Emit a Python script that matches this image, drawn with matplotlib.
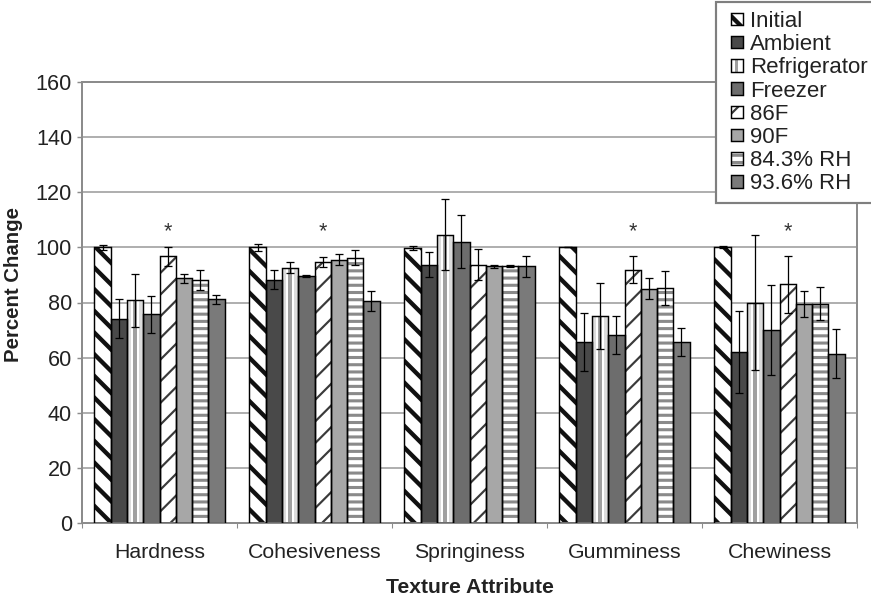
import matplotlib
matplotlib.use('Agg')
import matplotlib.pyplot as plt
import numpy as np
from matplotlib.patches import Rectangle
from matplotlib.legend_handler import HandlerBase

plt.rcParams['font.family'] = ['Liberation Sans', 'DejaVu Sans']
plt.rcParams['hatch.linewidth'] = 1.5

# ---------------- data ----------------
categories = ['Hardness', 'Cohesiveness', 'Springiness', 'Gumminess', 'Chewiness']
series_names = ['Initial', 'Ambient', 'Refrigerator', 'Freezer', '86F', '90F',
                '84.3% RH', '93.6% RH']

initial = [100.0, 100.0, 99.8, 100.0, 100.0]
initial_err = [0.8, 1.2, 0.7, 0.0, 0.3]
ambient = [74.2, 88.3, 93.7, 65.7, 62.1]
ambient_err = [7.1, 3.3, 4.5, 10.6, 15.0]
refrigerator = [80.8, 92.6, 104.5, 75.1, 80.0]
refrigerator_err = [9.7, 2.0, 12.9, 12.0, 24.5]
freezer = [75.7, 89.6, 102.1, 68.2, 70.0]
freezer_err = [6.7, 0.3, 9.7, 7.0, 16.3]
f86 = [96.7, 94.7, 93.7, 91.9, 86.6]
f86_err = [3.5, 1.7, 5.6, 4.8, 10.4]
f90 = [88.7, 95.5, 93.1, 85.0, 79.4]
f90_err = [1.8, 1.9, 0.5, 3.8, 4.6]
rh843 = [88.0, 96.2, 93.1, 85.3, 79.6]
rh843_err = [3.6, 2.7, 0.4, 6.2, 5.9]
rh936 = [81.1, 80.6, 93.1, 65.6, 61.5]
rh936_err = [1.5, 3.6, 3.9, 5.0, 9.0]

sig_categories = ['Hardness', 'Cohesiveness', 'Gumminess', 'Chewiness']
sig_series = '86F'
sig_y = 105.8

values = [initial, ambient, refrigerator, freezer, f86, f90, rh843, rh936]
errors = [initial_err, ambient_err, refrigerator_err, freezer_err, f86_err,
          f90_err, rh843_err, rh936_err]

# ---------------- styles ----------------
styles = [
    dict(face='white', hatch='\\\\', hcolor='#111111', hlw=2.4),
    dict(face='#494949'),
    dict(face='white', stripe='#a0a0a0', side='#dcdcdc'),
    dict(face='#6d6d6d'),
    dict(face='white', hatch='//', hcolor='#3a3a3a', hlw=1.2),
    dict(face='#a7a7a7'),
    dict(face='white', hatch='---', hcolor='#8a8a8a', hlw=1.7),
    dict(face='#7a7a7a'),
]

W, H = 871, 598
fig = plt.figure(figsize=(W / 130, H / 130), dpi=130)
ax = fig.add_axes([82 / W, 1 - 523.3 / H, 775 / W, (523.3 - 81.7) / H])

x = np.arange(len(categories)) + 0.5
w = 0.105
n = len(series_names)


def hatch_lw(artist, lw):
    """Draw this artist with its own hatch line width."""
    orig = artist.draw

    def draw(renderer, *a, **k):
        with plt.rc_context({'hatch.linewidth': lw}):
            return orig(renderer, *a, **k)
    artist.draw = draw
    if hasattr(artist, 'set_hatch_linewidth'):
        try:
            artist.set_hatch_linewidth(lw)
        except Exception:
            pass
    return artist


for i, (vals, errs, st) in enumerate(zip(values, errors, styles)):
    pos = x + (i - (n - 1) / 2) * w
    if st.get('hatch'):
        bars = ax.bar(pos, vals, w, color=st['face'], edgecolor=st['hcolor'],
                      linewidth=0, hatch=st['hatch'], zorder=2)
        for b in bars:
            hatch_lw(b, st['hlw'])
    else:
        ax.bar(pos, vals, w, color=st['face'], linewidth=0, zorder=2)
    if st.get('stripe'):
        ax.bar(pos - w * 0.36, vals, w * 0.2, color=st['side'], linewidth=0, zorder=2.1)
        ax.bar(pos + w * 0.36, vals, w * 0.2, color=st['side'], linewidth=0, zorder=2.1)
        ax.bar(pos, vals, w * 0.25, color=st['stripe'], linewidth=0, zorder=2.1)
    ax.bar(pos, vals, w, facecolor='none', edgecolor='black', linewidth=0.8, zorder=3)
    ax.errorbar(pos, vals, yerr=errs, fmt='none', ecolor='black', elinewidth=0.7,
                capsize=2.0, capthick=0.7, zorder=4)

# significance asterisks
k = series_names.index(sig_series)
for c in sig_categories:
    j = categories.index(c)
    ax.text(x[j] + (k - (n - 1) / 2) * w, sig_y, '*', ha='center', va='center',
            fontsize=12, color='#333333', zorder=5)

# ---------------- axes ----------------
ax.set_xlim(0, len(categories))
ax.set_ylim(0, 160)
ax.set_yticks(np.arange(0, 161, 20))
ax.yaxis.grid(True, color='#b0b0b0', linewidth=1.1)
ax.set_axisbelow(True)
for s in ax.spines.values():
    s.set_color('#8c8c8c')
    s.set_linewidth(1.1)
ax.set_xticks(x)
ax.set_xticklabels(categories)
ax.set_xticks(np.arange(0, len(categories) + 1), minor=True)
ax.tick_params(axis='x', which='major', length=0, pad=10.8, labelsize=11.8,
               labelcolor='#222222')
ax.tick_params(axis='x', which='minor', length=3, direction='out', color='#8c8c8c')
ax.tick_params(axis='y', length=3, color='#8c8c8c', pad=2.5, labelsize=12,
               labelcolor='#222222')

fig.text(14 / W, 1 - 284 / H, 'Percent Change', rotation=90, fontweight='bold',
         fontsize=11.3, ha='center', va='center', color='#222222')
fig.text(470 / W, 1 - 593 / H, 'Texture Attribute', fontweight='bold',
         fontsize=11.7, ha='center', va='baseline', color='#222222')


# ---------------- legend ----------------
SW = 0.56  # swatch size in em


class SwatchHandler(HandlerBase):
    def __init__(self, st):
        super().__init__()
        self.st = st

    def create_artists(self, legend, orig_handle, xdescent, ydescent, width,
                       height, fontsize, trans):
        st = self.st
        size = SW * fontsize
        x0 = -xdescent + width - size
        y0 = -ydescent + (height - size) / 2
        arts = []
        if st.get('hatch'):
            r = Rectangle((x0, y0), size, size, facecolor=st['face'],
                          edgecolor=st['hcolor'], linewidth=0,
                          hatch=st['hatch'], transform=trans)
            hatch_lw(r, st['hlw'])
            arts.append(r)
        else:
            arts.append(Rectangle((x0, y0), size, size, facecolor=st['face'],
                                  linewidth=0, transform=trans))
        if st.get('stripe'):
            arts.append(Rectangle((x0 + size * 0.375, y0), size * 0.25, size,
                                  facecolor=st['stripe'], linewidth=0, transform=trans))
        arts.append(Rectangle((x0, y0), size, size, facecolor='none',
                              edgecolor='black', linewidth=0.8, transform=trans))
        return arts


handles = [Rectangle((0, 0), 1, 1) for _ in series_names]
hmap = {h: SwatchHandler(st) for h, st in zip(handles, styles)}
leg = fig.legend(handles, series_names, loc='upper left',
                 bbox_to_anchor=(716 / W, 1 - 2 / H), bbox_transform=fig.transFigure,
                 fontsize=12.3, frameon=True, fancybox=False, edgecolor='#7f7f7f',
                 framealpha=1, borderpad=0.4, handlelength=0.82, handleheight=0.56,
                 handletextpad=0.3, labelspacing=0.1, borderaxespad=0,
                 handler_map=hmap)
leg.get_frame().set_linewidth(1.2)
for t in leg.get_texts():
    t.set_color('#222222')

fig.savefig('out.png', dpi=130)
